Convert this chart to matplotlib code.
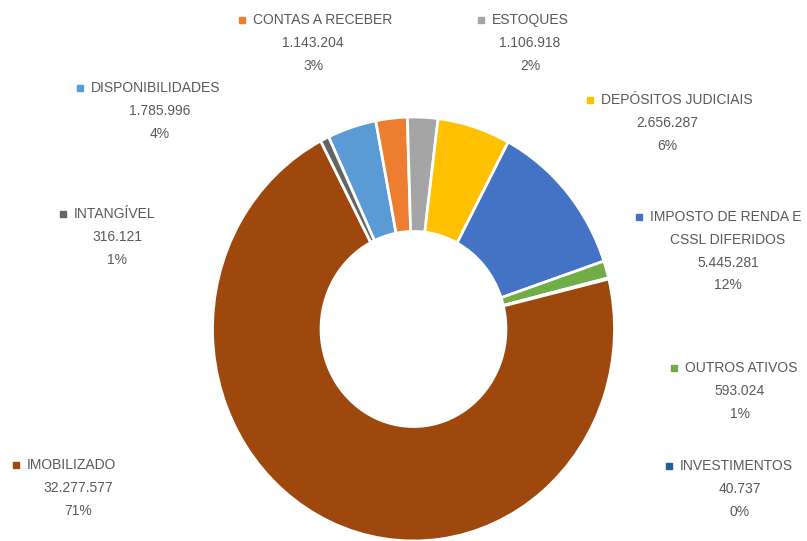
import matplotlib.pyplot as plt
from matplotlib.lines import Line2D

plt.rcParams['font.family'] = ['Liberation Sans Narrow', 'Liberation Sans', 'DejaVu Sans']

# slices in Excel order (clockwise, first slice rotated to 335 deg)
categorias = ['DISPONIBILIDADES', 'CONTAS A RECEBER', 'ESTOQUES', 'DEPÓSITOS JUDICIAIS',
              'IMPOSTO DE RENDA E\nCSSL DIFERIDOS', 'OUTROS ATIVOS', 'INVESTIMENTOS',
              'IMOBILIZADO', 'INTANGÍVEL']
valores = [1785996, 1143204, 1106918, 2656287, 5445281, 593024, 40737, 32277577, 316121]
valores_txt = ['1.785.996', '1.143.204', '1.106.918', '2.656.287', '5.445.281',
               '593.024', '40.737', '32.277.577', '316.121']
cores = ['#5B9BD5', '#ED7D31', '#A5A5A5', '#FFC000', '#4472C4', '#70AD47',
         '#255E91', '#9E480E', '#636363']

W, H = 807, 541
fig = plt.figure(figsize=(W / 100, H / 100), dpi=100)
ax = fig.add_axes([0, 0, 1, 1])

ax.pie(valores, colors=cores, startangle=115, counterclock=False, radius=1.0,
       wedgeprops=dict(width=0.54, edgecolor='white', linewidth=2))
ax.set_aspect('auto')
cx, cy, rx, ry = 413.5, 212, 201, 212
ax.set_xlim(-cx / rx, (W - cx) / rx)
ax.set_ylim(-cy / ry, (H - cy) / ry)
ax.axis('off')

total = sum(valores)
# label blocks in pixels: (center x of numbers, top line y, square x)
pos = {
    'DISPONIBILIDADES': (160, 88, 80),
    'CONTAS A RECEBER': (313, 20, 242),
    'ESTOQUES': (530, 20, 481),
    'DEPÓSITOS JUDICIAIS': (667, 100, 590),
    'IMPOSTO DE RENDA E\nCSSL DIFERIDOS': (728, 217, 639),
    'OUTROS ATIVOS': (740, 368, 674),
    'INVESTIMENTOS': (740, 466, 669),
    'IMOBILIZADO': (78, 465, 16),
    'INTANGÍVEL': (117, 214, 63),
}
lh = 22.8
fs = 10
cor_txt = '#595959'
for nome, v, vt, c in zip(categorias, valores, valores_txt, cores):
    x, y, sx = pos[nome]
    linhas = nome.split('\n')
    fig.text((sx + 11) / W, 1 - y / H, linhas[0], ha='left', va='center',
             fontsize=fs, color=cor_txt)
    for i, ln in enumerate(linhas[1:], start=1):
        fig.text(x / W, 1 - (y + i * lh) / H, ln, ha='center', va='center',
                 fontsize=fs, color=cor_txt)
    fig.add_artist(Line2D([sx / W], [1 - y / H], marker='s', ms=4.5, color=c,
                          linestyle='none', transform=fig.transFigure))
    n = len(linhas)
    fig.text(x / W, 1 - (y + n * lh) / H, vt, ha='center', va='center',
             fontsize=fs, color=cor_txt)
    fig.text(x / W, 1 - (y + (n + 1) * lh) / H, '%d%%' % round(100 * v / total),
             ha='center', va='center', fontsize=fs, color=cor_txt)

fig.savefig('out.png', dpi=100)
